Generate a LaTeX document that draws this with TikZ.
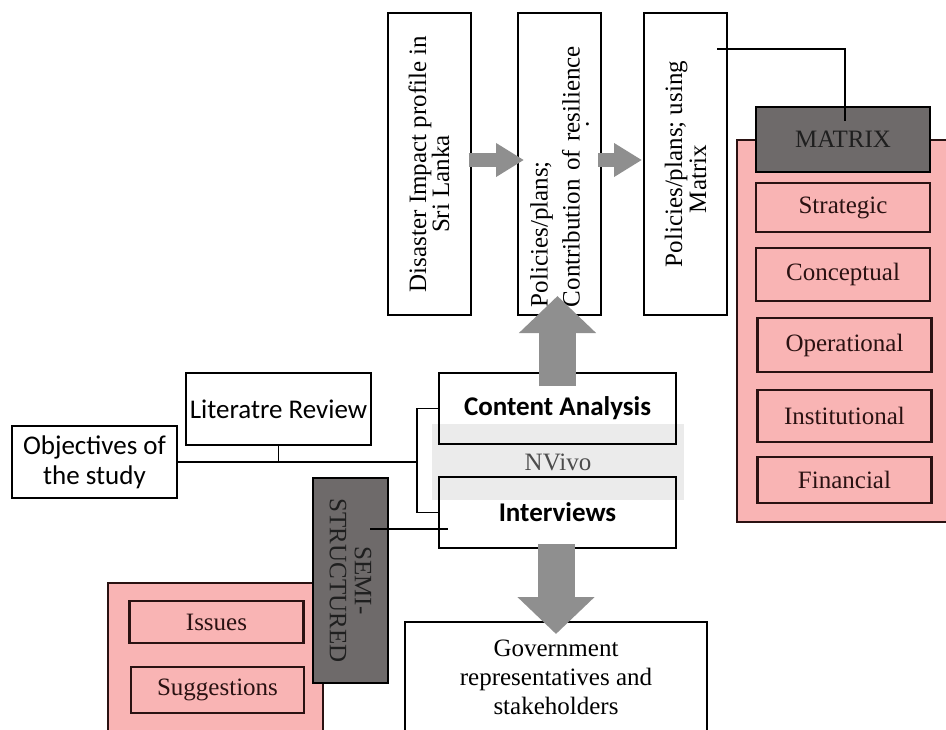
\documentclass[tikz,border=0pt]{standalone}
\usepackage{fontspec}
\setmainfont{Liberation Serif}
\newfontfamily\calibri{Carlito}
\usetikzlibrary{arrows.meta,calc}

\definecolor{pinkfill}{HTML}{F9B4B4}
\definecolor{darkslate}{HTML}{6E6A6A}
\definecolor{arrowgray}{HTML}{8F8F8F}
\definecolor{bandgray}{HTML}{EBEBEB}
\definecolor{rimred}{HTML}{2A1212}

\tikzset{
  box/.style={draw, line width=2pt, inner sep=0pt, align=center},
  serif/.style={font=\fontsize{25}{29}\selectfont},
  sans/.style={font=\calibri\fontsize{27}{30}\selectfont},
  sansbold/.style={font=\calibri\bfseries\fontsize{27}{30}\selectfont},
  vbox/.style={box, rotate=90, minimum width=302pt, minimum height=83pt, font=\fontsize{25}{23}\selectfont},
  pinkbg/.style={draw=rimred, line width=2pt, fill=pinkfill},
  item/.style={draw=rimred, line width=2.5pt, fill=pinkfill, text=rimred, serif, inner sep=0pt, minimum width=174pt},
  tag/.style={draw=black, line width=2pt, fill=darkslate, text=black!88, serif, inner sep=0pt, align=center},
  wire/.style={line width=1.6pt},
  fatarrow/.style={draw=arrowgray, line width=14pt, -{Triangle[width=32pt,length=28pt]}},
  bigarrow/.style={draw=arrowgray, line width=37pt, -{Triangle[width=75pt,length=37pt]}},
}

\begin{document}
\begin{tikzpicture}[x=1pt, y=-1pt]
	\useasboundingbox (0,0) rectangle (946,729);

	% top row, text turned to read upwards
	\node[vbox] (dia) at (429,164) {Disaster Impact profile in\\Sri Lanka\hspace*{40pt}};
	\node[vbox, align=left, text width=286pt, font=\fontsize{25}{32}\selectfont] (polB) at (559.5,164)
		{Policies/plans;\\Contribution of resilience\\[-23pt]\hspace*{180pt}.};
	\node[vbox, font=\fontsize{25}{24}\selectfont] (polC) at (685.5,164) {Policies/plans; using\\Matrix\hspace*{30pt}};

	% matrix panel
	\draw[pinkbg] (737,140) rectangle (960,522);
	\node[tag, minimum width=174pt, minimum height=65pt] (matrix) at (843,139.5) {MATRIX};
	\node[item, minimum height=49pt] (strat) at (843,207.5) {Strategic};
	\node[item, minimum height=53pt] (concept) at (843,274.5) {Conceptual};
	\node[item, minimum height=54pt] (oper) at (844.5,345) {Operational};
	\node[item, minimum height=52pt] (inst) at (844.5,416) {Institutional};
	\node[item, minimum height=46pt] (fin) at (844.5,480) {Financial};

	% left side
	\node[box, sans, minimum width=185pt, minimum height=72pt] (lit) at (278.5,409) {Literatre Review};
	\node[box, sans, minimum width=165pt, minimum height=72pt] (obj) at (94.5,462) {Objectives of\\the study};

	% NVivo band behind the two methods
	\node[fill=bandgray, inner sep=0pt, minimum width=252pt, minimum height=76pt, serif, text=black!70] (nvivo) at (558,462) {NVivo};
	\node[box, sansbold, minimum width=237pt, minimum height=71pt] (contA) at (557.5,408.5) {Content Analysis};
	\node[box, sansbold, minimum width=237pt, minimum height=71pt] (interv) at (557.5,512.5) {Interviews};

	% interview panel
	\draw[pinkbg] (108,583) rectangle (323,760);
	\node[item, minimum height=42pt] (issues) at (216.5,622) {Issues};
	\node[item, minimum height=46pt, minimum width=173pt] (sugg) at (217.5,690) {Suggestions};
	\node[tag, rotate=-90, minimum width=205pt, minimum height=75pt, font=\fontsize{25}{25}\selectfont] (semi) at (350.5,580.5) {SEMI-\\STRUCTURED};

	\node[box, serif, minimum width=302pt, minimum height=111pt] (gov) at (556,677.5) {Government\\representatives and\\stakeholders};

	% wires
	\coordinate (junc) at (417,462);
	\coordinate (cTap) at (717,49);
	\coordinate (semiTap) at (370,529);
	\coordinate (intTap) at ($(interv.west)+(10,16.5)$);
	\draw[wire] (obj.east) -- (junc);
	\draw[wire] (lit.south) -- (lit.south |- junc);
	\draw[wire] (contA.west) -| (junc) |- (interv.west);
	\draw[wire] (semiTap) -- (intTap);
	\draw[wire] (cTap) -| ($(matrix.north)+(2,15)$);

	% grey flow arrows
	\draw[fatarrow] ($(dia.south)+(-3,-4)$) -- ($(polB.north)+(7,-4)$);
	\draw[fatarrow] ($(polB.south)+(-4,-4)$) -- ($(polC.north)+(-1,-4)$);
	\draw[bigarrow] ($(contA.north)+(0,14)$) -- ($(contA.north |- polB.west)+(0,-20)$);
	\draw[bigarrow] ($(interv.south)+(-1.5,-5)$) -- ($(interv.south |- gov.north)+(-1.5,13)$);
\end{tikzpicture}
\end{document}
